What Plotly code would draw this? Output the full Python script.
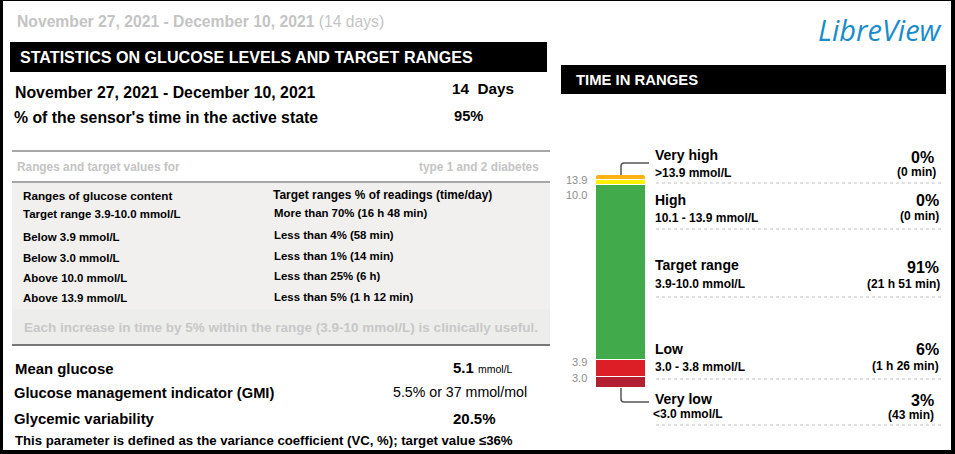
import plotly.graph_objects as go

W, H = 955, 454
FONT = "Liberation Sans, Arial, sans-serif"

# ---- data ----
period = "November 27, 2021 - December 10, 2021"
n_days = 14
sensor_active = 95

range_names = ["Very high", "High", "Target range", "Low", "Very low"]
range_limits = [">13.9 mmol/L", "10.1 - 13.9 mmol/L", "3.9-10.0 mmol/L", "3.0 - 3.8 mmol/L", "<3.0 mmol/L"]
range_pct = [0, 0, 91, 6, 3]
range_time = ["(0 min)", "(0 min)", "(21 h 51 min)", "(1 h 26 min)", "(43 min)"]
# segment heights as drawn in the bar (small ranges get a minimum size)
bar_heights = [2.3, 2.3, 82.2, 8.0, 5.2]
bar_colors = ["#FDB316", "#FFF100", "#41AA4A", "#DC1F26", "#B21F30"]
boundary_labels = ["13.9", "10.0", "3.9", "3.0"]

goal_ranges = ["Target range 3.9-10.0 mmol/L", "Below 3.9 mmol/L", "Below 3.0 mmol/L",
               "Above 10.0 mmol/L", "Above 13.9 mmol/L"]
goal_targets = ["More than 70% (16 h 48 min)", "Less than 4% (58 min)", "Less than 1% (14 min)",
                "Less than 25% (6 h)", "Less than 5% (1 h 12 min)"]

mean_glucose = 5.1
gmi_pct = 5.5
gmi_mmol = 37
glycemic_var = 20.5


def X(px):
    return px / W


def Y(py):
    return 1 - py / H


annotations = []
shapes = []


def txt(x, y, text, size, color="#000", anchor="left"):
    annotations.append(dict(
        x=X(x), y=Y(y), xref="paper", yref="paper", text=text, showarrow=False,
        xanchor=anchor, yanchor="middle", align=anchor,
        font=dict(family=FONT, size=size, color=color)))


def rect(x0, y0, x1, y1, color):
    shapes.append(dict(type="rect", xref="paper", yref="paper", x0=X(x0), x1=X(x1),
                       y0=Y(y0), y1=Y(y1), fillcolor=color, line_width=0, layer="below"))


def hline(x0, x1, y, color, width=1, dash="solid"):
    shapes.append(dict(type="line", xref="paper", yref="paper", x0=X(x0), x1=X(x1),
                       y0=Y(y), y1=Y(y), line=dict(color=color, width=width, dash=dash)))


# ---- stacked time-in-range bar (drawn bottom to top) ----
fig = go.Figure()
for i in reversed(range(len(range_names))):
    fig.add_trace(go.Bar(
        x=["tir"], y=[bar_heights[i]], name=range_names[i], width=1,
        marker=dict(color=bar_colors[i], line=dict(color="white", width=1)),
        hovertemplate=f"{range_names[i]}: {range_pct[i]}%<extra></extra>"))

# outer frame
rect(0, 0, 955, 1, "#000")
rect(0, 0, 3, 454, "#000")
rect(951, 0, 955, 454, "#000")
rect(0, 450, 955, 454, "#000")

# ---- left panel ----
txt(15, 21, f"<b>{period}</b> ({n_days} days)", 15.7, "#c4c4c4")
rect(10, 42, 547, 72, "#000")
txt(18, 57, "<b>STATISTICS ON GLUCOSE LEVELS AND TARGET RANGES</b>", 16.1, "#fff")
txt(13, 92, f"<b>{period}</b>", 15.85)
txt(450, 89, f"<b>{n_days}  Days</b>", 15.3)
txt(12, 117, "<b>% of the sensor's time in the active state</b>", 15.8)
txt(452, 116, f"<b>{sensor_active}%</b>", 14.7)

hline(12, 550, 151, "#8a8a8a", 1.5)
txt(15, 167, "<b>Ranges and target values for</b>", 11.85, "#c4c4c4")
txt(541, 167, "<b>type 1 and 2 diabetes</b>", 11.85, "#c4c4c4", anchor="right")
hline(12, 550, 182, "#8a8a8a", 1.5)
rect(12, 183, 550, 309, "#f1f0ef")
rect(12, 309, 550, 344, "#ededec")
txt(21, 195, "<b>Ranges of glucose content</b>", 11.7)
txt(271, 195, "<b><span style='font-size:12px'>Target ranges</span> % of readings (time/day)</b>", 11.9)
row_y = [214, 237, 258, 278, 298]
goal_y = [213, 235, 256, 276, 297]
for i in range(len(goal_ranges)):
    txt(21, row_y[i], f"<b>{goal_ranges[i]}</b>", 11.45)
    txt(272, goal_y[i], f"<b>{goal_targets[i]}</b>", 11.4)
txt(22, 327, "<b>Each increase in time by 5% within the range (3.9-10 mmol/L) is clinically useful.</b>",
    13.5, "#c8c8c8")
hline(12, 550, 345, "#777", 2)

txt(13, 369, "<b>Mean glucose</b>", 14.9)
txt(451, 367, f"<b>{mean_glucose}</b> <span style='font-size:10.5px'>mmol/L</span>", 15)
txt(12, 393, "<b>Glucose management indicator (GMI)</b>", 14.7)
txt(391, 392, f"{gmi_pct}% or {gmi_mmol} mmol/mol", 14.2)
txt(12, 419, "<b>Glycemic variability</b>", 14.9)
txt(451, 418, f"<b>{glycemic_var}%</b>", 15)
txt(13, 440, "<b>This parameter is defined as the variance coefficient (VC, %); target value \u226436%</b>", 13.2)

# ---- right panel ----
annotations.append(dict(x=X(944), y=Y(30), xref="paper", yref="paper", text="<i>LibreView</i>",
                        showarrow=False, xanchor="right", yanchor="middle",
                        font=dict(family="Open Sans, Liberation Sans, sans-serif", size=29, color="#1a8ccc")))
rect(561, 65, 946, 94, "#000")
txt(574, 80, "<b>TIME IN RANGES</b>", 14.85, "#fff")

name_y = [155, 200, 265, 349, 399]
sub_y = [173, 218, 284, 367, 414]
pct_y = [157, 200, 267, 349, 400]
pct_x = [936, 941, 941, 941, 936]
time_x = [938, 941, 942, 941, 936]
time_y = [172, 216, 284, 366, 415]
dot_y = [183, 229, 297, 379, 425]
for i in range(len(range_names)):
    txt(653, name_y[i], f"<b>{range_names[i]}</b>", 14)
    txt(653 if i != 4 else 651, sub_y[i], f"<b>{range_limits[i]}</b>", 12)
    txt(pct_x[i], pct_y[i], f"<b>{range_pct[i]}%</b>", 16, anchor="right")
    txt(time_x[i], time_y[i], f"<b>{range_time[i]}</b>", 12, anchor="right")
    hline(656, 943, dot_y[i], "#c0c0c0", 1, "dot")

lab_y = [180, 195, 362, 378]
for lab, yy in zip(boundary_labels, lab_y):
    txt(589, yy, lab, 11, "#8c8c8c", anchor="right")

# connectors from the bar to the very high / very low labels
shapes.append(dict(type="path", xref="paper", yref="paper", line=dict(color="#555", width=1.5),
                   path=f"M {X(621)},{Y(175)} L {X(621)},{Y(166)} Q {X(621)},{Y(163)} {X(624)},{Y(163)} L {X(649)},{Y(163)}"))
shapes.append(dict(type="path", xref="paper", yref="paper", line=dict(color="#555", width=1.5),
                   path=f"M {X(621)},{Y(388)} L {X(621)},{Y(399)} Q {X(621)},{Y(402)} {X(624)},{Y(402)} L {X(649)},{Y(402)}"))

fig.update_layout(
    width=W, height=H, margin=dict(l=0, r=0, t=0, b=0),
    paper_bgcolor="white", plot_bgcolor="rgba(0,0,0,0)",
    barmode="stack", bargap=0, showlegend=False, barcornerradius=3,
    xaxis=dict(domain=[X(596), X(646)], range=[-0.5, 0.5], visible=False, fixedrange=True),
    yaxis=dict(domain=[Y(388), Y(175)], range=[0, sum(bar_heights)], visible=False, fixedrange=True),
    annotations=annotations, shapes=shapes,
)

fig.write_html("out.html", config={"displayModeBar": False},
               post_script="document.body.style.margin='0px';")
